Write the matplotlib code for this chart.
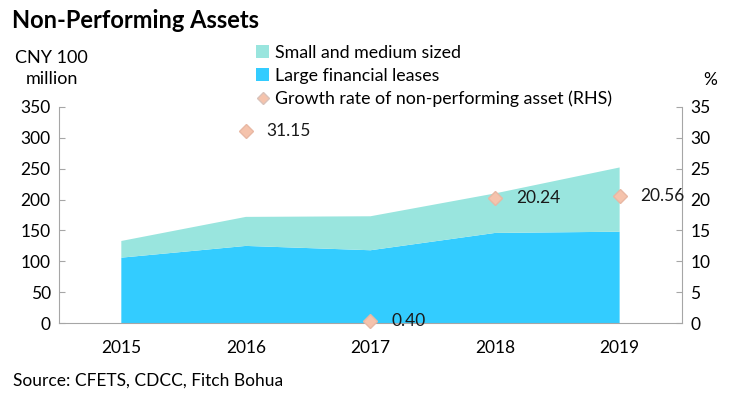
import numpy as np
import matplotlib
matplotlib.use("Agg")
import matplotlib.pyplot as plt
from matplotlib.lines import Line2D
from matplotlib.patches import Patch

plt.rcParams["font.family"] = ["Lato", "DejaVu Sans"]

# Data
years = ["2015", "2016", "2017", "2018", "2019"]
large = [106, 125, 118, 146, 148]
small_medium = [27, 47, 55, 64, 104]
growth = [np.nan, 31.15, 0.40, 20.24, 20.56]

c_small = "#99E5DE"
c_large = "#33CCFF"
c_diamond = "#F5C3AC"
grey = "#A6A6A6"

fig = plt.figure(figsize=(7.38, 3.96), dpi=100)
ax = fig.add_axes([0.08, 0.184, 0.844, 0.546])
x = np.arange(len(years))

ax.stackplot(x, large, small_medium, colors=[c_large, c_small], linewidth=0)
ax.set_xlim(-0.5, len(years) - 0.5)
ax.set_ylim(0, 350)
ax.set_yticks(range(0, 351, 50))
ax.set_xticks(x)
ax.set_xticklabels(years)
ax.tick_params(axis="x", length=0, pad=12, labelsize=12.5)
ax.tick_params(axis="y", direction="in", length=4, color=grey, labelsize=12.5, pad=6)
for s in ["top", "right"]:
    ax.spines[s].set_visible(False)
ax.spines["left"].set_color(grey)
ax.spines["bottom"].set_color(grey)

ax2 = ax.twinx()
ax2.set_ylim(0, 35)
ax2.set_yticks(range(0, 36, 5))
ax2.tick_params(axis="y", direction="in", length=4, color=grey, labelsize=12.5, pad=6)
for s in ["top", "left", "bottom"]:
    ax2.spines[s].set_visible(False)
ax2.spines["right"].set_color(grey)
ax2.plot(x, growth, linestyle="none", marker="D", markersize=7,
         markerfacecolor=c_diamond, markeredgecolor="#E8B8A4", clip_on=False, zorder=5)
for xi, g in zip(x, growth):
    if not np.isnan(g):
        ax2.annotate(f"{g:.2f}", (xi, g), xytext=(15, 0), textcoords="offset points",
                     va="center", ha="left", fontsize=12.5, color="#1a1a1a")

fig.text(0.016, 0.948, "Non-Performing Assets", fontsize=17, fontweight="bold", va="center")
fig.text(0.07, 0.827, "CNY 100\nmillion", fontsize=13, ha="center", va="center", linespacing=1.35)
fig.text(0.962, 0.798, "%", fontsize=12.5, ha="center", va="center")
fig.text(0.018, 0.04, "Source: CFETS, CDCC, Fitch Bohua", fontsize=12.5, va="center")

handles = [Patch(facecolor=c_small, edgecolor="none"),
           Patch(facecolor=c_large, edgecolor="none"),
           Line2D([], [], linestyle="none", marker="D", markersize=6,
                  markerfacecolor=c_diamond, markeredgecolor="#D9C2BA")]
labels = ["Small and medium sized", "Large financial leases",
          "Growth rate of non-performing asset (RHS)"]
fig.legend(handles, labels, loc="upper left", bbox_to_anchor=(0.335, 0.91),
           frameon=False, fontsize=12.8, handlelength=0.75, handleheight=0.75,
           handletextpad=0.3, labelspacing=0.4, borderpad=0)

fig.savefig("out.png", dpi=100)
